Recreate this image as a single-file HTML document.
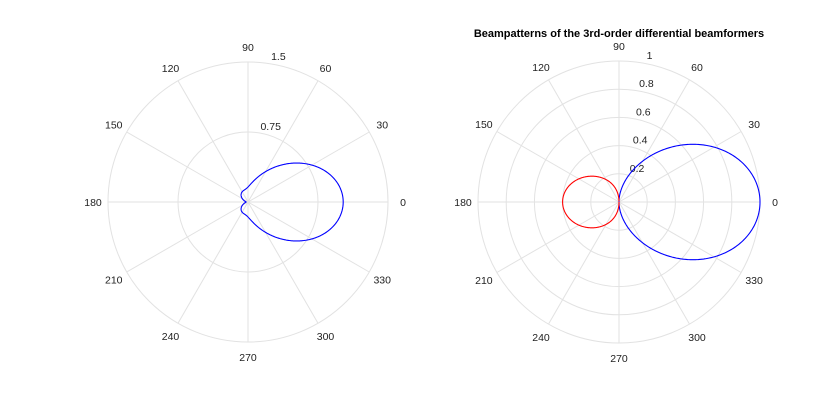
<!DOCTYPE html>
<html><head><meta charset="utf-8"><style>
html,body{margin:0;padding:0;background:#fff;}
svg{display:block;font-family:"Liberation Sans",sans-serif;}
</style></head><body>
<svg id="s" width="840" height="420" xmlns="http://www.w3.org/2000/svg">
<text x="619" y="37" text-anchor="middle" font-size="11" font-weight="bold" fill="#000">Beampatterns of the 3rd-order differential beamformers</text>
</svg>
<script>
var s=document.getElementById('s'),NS='http://www.w3.org/2000/svg';
function el(t,a,txt){var e=document.createElementNS(NS,t);for(var k in a)e.setAttribute(k,a[k]);if(txt!=null)e.textContent=txt;s.appendChild(e);return e;}
function grid(cx,cy,R,rings,labels){
 rings.forEach(function(r){el('circle',{cx:cx,cy:cy,r:r,fill:'none',stroke:'#e2e2e2','stroke-width':1});});
 for(var a=0;a<360;a+=30){var t=a*Math.PI/180;
  el('line',{x1:cx,y1:cy,x2:cx+R*Math.cos(t),y2:cy-R*Math.sin(t),stroke:'#e2e2e2','stroke-width':1});
  el('text',{x:cx+(R+15)*Math.cos(t),y:cy-(R+15)*Math.sin(t)+4,'text-anchor':'middle','font-size':'10.5',fill:'#222'},''+a);}
 rings.forEach(function(r,i){el('text',{x:cx+0.11*r+15,y:cy-r-2,'text-anchor':'middle','font-size':'10.5',fill:'#222'},labels[i]);});
}
function solve(A,b){var n=b.length;for(var i=0;i<n;i++){var p=i;for(var j=i+1;j<n;j++)if(Math.abs(A[j][i])>Math.abs(A[p][i]))p=j;
 var t=A[i];A[i]=A[p];A[p]=t;t=b[i];b[i]=b[p];b[p]=t;
 for(var j=i+1;j<n;j++){var f=A[j][i]/A[i][i];for(var k=i;k<n;k++)A[j][k]-=f*A[i][k];b[j]-=f*b[i];}}
 var x=[];for(var i=n-1;i>=0;i--){var v=b[i];for(var k=i+1;k<n;k++)v-=A[i][k]*x[k];x[i]=v/A[i][i];}return x;}
function curve(cx,cy,sc,f,color,sign){var d='',first=true;
 for(var i=0;i<=720;i++){var t=i*Math.PI/360,r=f(Math.cos(t));
  if(sign!=null){if(sign*r<0){first=true;continue;}}
  r=Math.abs(r);var x=cx+sc*r*Math.cos(t),y=cy-sc*r*Math.sin(t);d+=(first?'M':'L')+x.toFixed(2)+' '+y.toFixed(2);first=false;}
 el('path',{d:d,fill:'none',stroke:color,'stroke-width':1.1});}
grid(248,202,140,[70,140],['0.75','1.5']);
grid(619,202,141,[28.2,56.4,84.6,112.8,141],['0.2','0.4','0.6','0.8','1']);
var pts=[[1,1.02],[-1,0.02],[-0.515,0.125],[0.782,0.67]];
var co=solve(pts.map(function(p){return [1,p[0],p[0]*p[0],p[0]*p[0]*p[0]];}),pts.map(function(p){return p[1];}));
curve(248,202,140/1.5,function(c){return co[0]+co[1]*c+co[2]*c*c+co[3]*c*c*c;},'#0000ff',null);
var g=function(c){return c*(0.456+0.3*c+0.244*c*c);};
curve(619,202,141,g,'#0000ff',1);
curve(619,202,141,g,'#ff0000',-1);
</script>
</body></html>
